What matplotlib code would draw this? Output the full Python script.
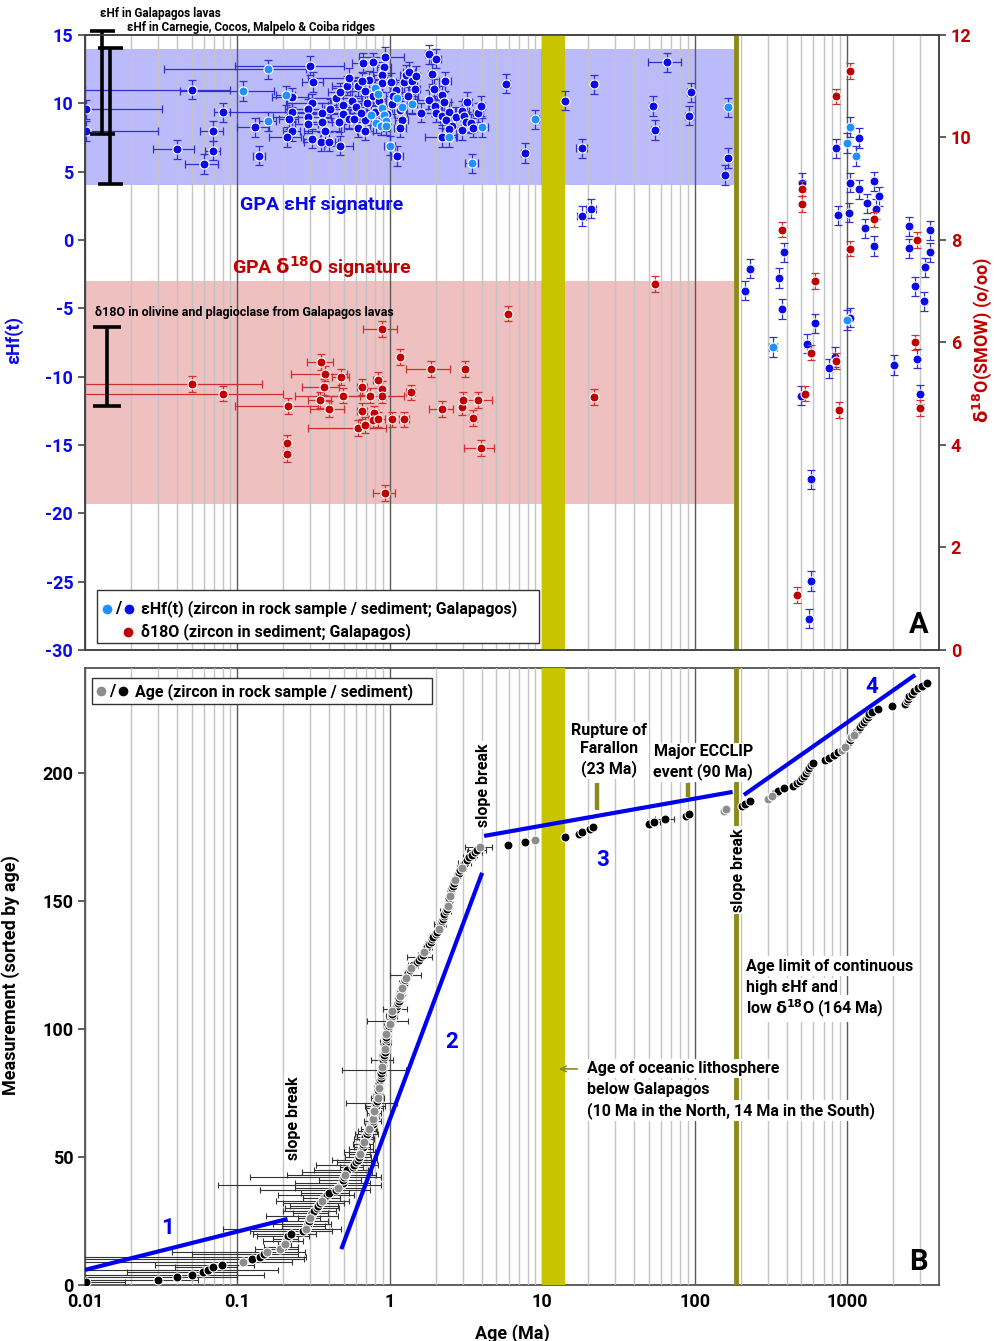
import numpy as np
import matplotlib
matplotlib.use('Agg')
import matplotlib.pyplot as plt
from matplotlib.patches import Rectangle
from matplotlib.ticker import LogLocator, FixedLocator, NullFormatter

plt.rcParams['font.family'] = ['Roboto', 'DejaVu Sans']
plt.rcParams['font.weight'] = 'bold'
plt.rcParams['axes.unicode_minus'] = False
plt.rcParams['mathtext.fontset'] = 'dejavusans'

# ---------------- DATA ----------------
X_TICKS = [0.01, 0.1, 1, 10, 100, 1000]
X_TICK_LABELS = ['0.01', '0.1', '1', '10', '100', '1000']
HF_TICKS = [-30, -25, -20, -15, -10, -5, 0, 5, 10, 15]
O_TICKS = [0, 2, 4, 6, 8, 10, 12]
N_TICKS = [0, 50, 100, 150, 200]

# eHf(t) of zircons (Ma, epsilon units)
HF_AGE = [0.0102, 0.0102, 0.050, 0.040, 0.060, 0.069, 0.069, 0.080, 0.130, 0.139,
          0.158, 0.158, 0.108, 0.209, 0.229, 0.229, 0.218, 0.229, 0.210,
          0.297, 0.314, 0.310, 0.290, 0.290, 0.290, 0.310, 0.355, 0.360, 0.360, 0.375, 0.405, 0.400,
          0.470, 0.440, 0.470, 0.490, 0.490, 0.465, 0.520, 0.540, 0.540, 0.580, 0.620, 0.620, 0.665,
          0.780, 0.930, 0.920, 0.690, 0.710, 0.690, 0.690, 0.730, 0.770,
          0.750, 0.800, 0.830, 0.810, 0.890, 0.920, 0.940, 0.870, 0.940,
          0.800, 0.890, 0.890, 1.02, 1.04, 1.10, 1.11, 1.17, 1.20, 1.17, 1.20, 1.24, 1.27, 1.34, 1.40,
          1.32, 1.48, 1.46, 1.40, 1.60, 1.00, 1.11,
          1.80, 2.00, 1.89, 2.30, 1.95, 1.80, 1.98, 2.20, 2.25, 2.00, 2.20, 2.45, 2.33, 2.55, 2.70,
          2.45, 2.98, 3.05, 2.98, 3.20, 3.15, 3.40, 3.50, 3.80, 3.95, 4.00, 2.20, 2.45, 3.45, 5.80,
          7.70, 9.00,
          0.56, 0.60, 0.65, 0.85, 1.05, 0.96, 0.66,
          14.1, 21.8, 18.2, 18.2, 20.9, 65.3, 53.0, 55.0, 93.8, 92.0, 164, 165, 157, 215, 230, 359,
          385, 375, 617, 847, 875, 1000, 1050, 1200, 1150, 1050, 1200, 1020, 1350, 1500, 1540, 1620,
          1300, 1500, 2550, 2550, 2800, 3500, 3500, 3230, 3200, 1000, 507, 328, 547, 500, 580, 580,
          560, 763, 830, 1050, 2030, 2880, 3000]
HF_VAL = [9.55, 7.98, 11.0, 6.64, 5.56, 6.54, 7.98, 9.35, 8.25, 6.17,
          12.5, 8.7, 10.9, 10.6, 10.45, 9.35, 8.85, 7.98, 7.54,
          12.75, 11.56, 10.0, 9.6, 9.0, 8.5, 7.4, 7.2, 9.3, 8.6, 8.0, 9.6, 7.2, 6.9, 10.4, 10.8, 9.9,
          9.2, 8.6, 11.3, 11.85, 8.85, 8.85, 11.25, 8.2, 12.95, 13.0, 13.4, 12.65, 10.9, 10.0, 8.8,
          8.0, 11.7, 10.5,
          9.15, 11.1, 10.7, 8.55, 9.65, 9.15, 8.7, 8.35, 8.35,
          9.4, 12.1, 11.5, 11.55, 9.95, 11.0, 10.4, 9.5, 8.8, 8.2, 9.7, 11.55, 12.1, 12.3, 11.65,
          10.5, 12.0, 11.05, 9.95, 9.3, 6.9, 6.15,
          13.6, 13.25, 12.15, 11.6, 11.05, 10.25, 9.8, 10.6, 10.1, 9.3, 9.1, 9.4, 8.8, 8.35, 9.0,
          8.1, 9.45, 9.1, 8.05, 10.1, 8.6, 8.55, 8.2, 9.3, 9.8, 8.25, 7.5, 7.5, 5.6, 11.45, 6.37, 8.83,
          10.2, 9.7, 9.3, 10.2, 10.5, 9.2, 11.6,
          10.2, 11.4, 6.7, 1.76, 2.3, 13.0, 9.8, 8.05, 10.8, 9.1, 9.7, 6.0, 4.76, -3.7, -2.1, -2.78,
          -0.9, -5.05, -6.1, 6.7, 1.8, 7.1, 8.27, 7.46, 6.15, 4.2, 3.7, 2.0, 2.7, 4.3, 2.27, 3.2, 0.87,
          -0.44, 1.0, -0.6, -3.4, 0.7, -0.9, -2.0, -4.5, -5.85, 4.2, -7.83, -7.6, -11.4, -17.5, -24.95,
          -27.7, -9.4, -8.56, -5.7, -9.15, -8.7, -11.3]
HF_XERR = [0.022, 0.02, 0.04, 0.012, 0.015, 0.008, 0.012, 0.01, 0.03, 0.012,
           0.125, 0.02, 0.066, 0.03, 0.06, 0.15, 0.03, 0.03, 0.05,
           0.2, 0.05, 0.1, 0.08, 0.12, 0.05, 0.04, 0.08, 0.15, 0.06, 0.1, 0.2, 0.06, 0.1, 0.15, 0.08,
           0.1, 0.2, 0.12, 0.1, 0.25, 0.08, 0.1, 0.06, 0.12, 0.1, 0.15, 0.3, 0.1, 0.2, 0.15, 0.1, 0.08,
           0.2, 0.12,
           0.05, 0.05, 0.05, 0.04, 0.05, 0.04, 0.05, 0.04, 0.06,
           0.1, 0.12, 0.1, 0.15, 0.1, 0.1, 0.08, 0.1, 0.12, 0.1, 0.08, 0.15, 0.1, 0.12, 0.1, 0.2, 0.1,
           0.12, 0.1, 0.3, 0.08, 0.1,
           0.1, 0.15, 0.1, 0.2, 0.15, 0.3, 0.2, 0.15, 0.25, 0.3, 0.2, 0.25, 0.2, 0.15, 0.2, 0.25, 0.3,
           0.2, 0.15, 0.25, 0.2, 0.15, 0.2, 0.3, 0.25, 0.4, 0.5, 0.3, 0.35, 0.3, 0.4, 0.5,
           0.1, 0.1, 0.1, 0.1, 0.1, 0.1, 0.1,
           0.5, 0.8, 1.5, 1.2, 1.5, 16, 3, 3, 5, 6, 6, 5, 6, 8, 10, 12, 15, 12, 20, 30,
           30, 40, 40, 40, 45, 40, 45, 40, 50, 60, 60, 65, 50, 60, 100, 100, 110, 130, 130, 120,
           120, 40, 20, 20, 25, 20, 25, 25, 20, 30, 30, 40, 70, 100, 110]
HF_ROCK_IDX = [10, 11, 12, 13, 54, 55, 56, 57, 58, 59, 60, 61, 62, 69, 73, 81, 83, 110, 112, 113,
               116, 134, 145, 146, 148, 165, 167]
HF_YERR = 0.7

# d18O of zircons in sediment (Ma, permil)
O_AGE = [0.05, 0.08, 0.216, 0.21, 0.21, 0.355, 0.376, 0.367, 0.35, 0.40, 0.48, 0.49, 0.66, 0.66,
         0.62, 0.69, 0.74, 0.79, 0.77, 0.83, 0.83, 0.89, 0.89, 0.89, 0.93, 1.03, 1.17, 1.24, 1.37,
         1.87, 2.2, 2.98, 3.0, 3.1, 3.8, 3.5, 3.95, 5.95, 21.8,
         55, 1050, 847, 507, 507, 375, 617, 1050, 1500, 2880, 580, 530, 847, 880, 470, 2800, 3000]
O_VAL = [5.19, 5.0, 4.76, 4.04, 3.82, 5.62, 5.39, 5.13, 4.88, 4.70, 5.33, 4.96, 5.13, 4.66, 4.33,
         4.39, 4.96, 4.62, 4.49, 4.5, 5.27, 5.09, 4.96, 6.26, 3.06, 4.5, 5.72, 4.5, 5.03, 5.48, 4.70,
         4.74, 4.88, 5.48, 4.88, 4.53, 3.94, 6.56, 4.94,
         7.14, 11.3, 10.8, 9.0, 8.7, 8.2, 7.2, 7.83, 8.4, 8.0, 5.8, 5.0, 5.64, 4.68, 1.07, 6.0, 4.72]
O_XERR = [0.095, 0.118, 0.12, 0.01, 0.01, 0.07, 0.15, 0.1, 0.06, 0.1, 0.06, 0.15, 0.05, 0.05, 0.33,
          0.05, 0.5, 0.04, 0.05, 0.1, 0.06, 0.03, 0.05, 0.22, 0.15, 0.05, 0.05, 0.1, 0.1, 0.6, 0.4,
          0.05, 0.1, 0.15, 0.9, 0.2, 0.9, 0.1, 0.5,
          2, 20, 15, 10, 10, 8, 12, 20, 25, 40, 12, 10, 15, 15, 10, 40, 40]
O_YERR = 0.15

# Reference ranges (lavas / ridges)
RANGE_HF_LAVAS = (0.0129, 7.75, 15.3)
RANGE_HF_RIDGES = (0.0146, 4.1, 14.05)
RANGE_O_LAVAS = (0.0139, 4.76, 6.3)
BAND_HF = (4.0, 14.0)
BAND_O = (-19.3, -3.0)
BAND_END_AGE = 180
LITHO_AGE = (10, 14)
LIMIT_AGE = 185

# Sorted zircon ages (Ma), measurement index 1..235
AGE_SORTED = [0.0102, 0.03, 0.04, 0.05, 0.059, 0.064, 0.069, 0.079, 0.108, 0.125, 0.14, 0.15,
              0.157, 0.19, 0.2, 0.205, 0.208, 0.21, 0.215, 0.226,
              0.27, 0.28, 0.285, 0.29, 0.295, 0.3, 0.305, 0.31, 0.32, 0.335,
              0.34, 0.35, 0.36, 0.37, 0.385, 0.40, 0.44, 0.46, 0.475, 0.49,
              0.495, 0.5, 0.51, 0.515, 0.52, 0.57, 0.58, 0.6, 0.62, 0.63,
              0.64, 0.65, 0.66, 0.665, 0.67, 0.68, 0.685, 0.69, 0.71, 0.72,
              0.73, 0.75, 0.77, 0.775, 0.78, 0.785, 0.79, 0.79, 0.80, 0.81,
              0.815, 0.82, 0.83, 0.835, 0.84, 0.84, 0.845, 0.85, 0.85, 0.86,
              0.87, 0.88, 0.88, 0.885, 0.89, 0.895, 0.90, 0.905, 0.91, 0.92,
              0.925, 0.93, 0.93, 0.935, 0.94, 0.94, 0.945, 0.95, 0.96, 0.97,
              0.98, 1.0, 1.01, 1.02, 1.03, 1.03, 1.04, 1.1, 1.12, 1.13,
              1.14, 1.15, 1.16, 1.17, 1.18, 1.2, 1.22, 1.23, 1.25, 1.27,
              1.3, 1.32, 1.35, 1.37, 1.42, 1.5, 1.55, 1.6, 1.64, 1.68,
              1.72, 1.76, 1.8, 1.85, 1.89, 1.93, 2.0, 2.05, 2.09, 2.12,
              2.15, 2.2, 2.22, 2.25, 2.28, 2.32, 2.36, 2.4, 2.42, 2.44,
              2.46, 2.48, 2.5, 2.53, 2.56, 2.6, 2.63, 2.68, 2.73, 2.78,
              2.85, 2.9, 2.96, 3.03, 3.1, 3.2, 3.3, 3.45, 3.6, 3.75,
              3.9, 5.96, 7.7, 8.9, 14.1, 17.5, 18.3, 20.5, 21.4, 50,
              53.7, 64, 88, 91.5, 155, 160, 205, 212, 230, 300,
              320, 335, 350, 385, 440, 470, 490, 505, 520, 535,
              550, 565, 580, 600, 720, 760, 820, 875, 930, 970,
              1000, 1020, 1040, 1060, 1100, 1150, 1190, 1220, 1250, 1280,
              1320, 1360, 1400, 1450, 1600, 1960, 2400, 2450, 2500, 2550,
              2650, 2750, 2900, 3100, 3360]
AGE_ERR = [0.008, 0.025, 0.06, 0.1, 0.04, 0.12, 0.03, 0.05, 0.12, 0.15,
           0.14, 0.1, 0.12, 0.06, 0.05, 0.02, 0.06, 0.04, 0.08, 0.1,
           0.15, 0.2, 0.09, 0.12, 0.1, 0.05, 0.15, 0.08, 0.12, 0.13,
           0.12, 0.15, 0.18, 0.1, 0.2, 0.14, 0.3, 0.22, 0.4, 0.25,
           0.15, 0.38, 0.3, 0.25, 0.2, 0.1, 0.25, 0.15, 0.2, 0.12,
           0.1, 0.15, 0.12, 0.08, 0.1, 0.05, 0.1, 0.08, 0.12, 0.1,
           0.08, 0.06, 0.05, 0.1, 0.04, 0.06, 0.08, 0.05, 0.1, 0.12,
           0.3, 0.05, 0.08, 0.06, 0.05, 0.04, 0.06, 0.05, 0.04, 0.05,
           0.04, 0.05, 0.06, 0.4, 0.05, 0.04, 0.05, 0.15, 0.06, 0.04,
           0.05, 0.06, 0.04, 0.05, 0.08, 0.05, 0.04, 0.06, 0.05, 0.04,
           0.06, 0.05, 0.3, 0.05, 0.08, 0.06, 0.05, 0.2, 0.06, 0.05,
           0.06, 0.07, 0.06, 0.08, 0.07, 0.06, 0.05, 0.08, 0.06, 0.07,
           0.3, 0.08, 0.07, 0.08, 0.1, 0.06, 0.08, 0.3, 0.1, 0.08,
           0.1, 0.12, 0.1, 0.08, 0.1, 0.12, 0.1, 0.08, 0.1, 0.12,
           0.2, 0.1, 0.12, 0.1, 0.12, 0.2, 0.1, 0.15, 0.12, 0.1,
           0.15, 0.12, 0.1, 0.15, 0.12, 0.1, 0.12, 0.15, 0.12, 0.1,
           0.15, 0.12, 0.2, 0.15, 0.3, 0.2, 0.3, 0.25, 0.4, 0.5,
           0.8, 0.3, 0.3, 0.4, 0.5, 0.5, 0.5, 0.6, 0.6, 1.5,
           5, 9, 2, 4, 3, 3, 2, 3, 4, 3,
           5, 5, 5, 6, 6, 6, 7, 7, 7, 8,
           8, 8, 9, 9, 10, 10, 12, 12, 14, 14,
           15, 15, 15, 16, 16, 17, 18, 18, 19, 19,
           20, 20, 21, 22, 24, 30, 35, 35, 36, 37,
           38, 40, 42, 45, 48]
AGE_ROCK_N = [9, 13, 14, 16, 22, 26, 33, 38, 43, 51, 56, 61, 65, 68, 73, 77, 85, 92, 98, 102,
              107, 113, 116, 120, 124, 130, 139, 148, 152, 158, 163, 171, 174, 185, 186, 190, 191,
              209, 210, 214, 215]

# Trend segments (age, measurement) pairs
SEG_AGE = [(0.01, 0.213), (0.48, 4.03), (4.15, 177), (210, 2790)]
SEG_N = [(5.9, 25.8), (14, 161), (175.4, 192.6), (191.4, 238.3)]
SEG_LABELS = ['1', '2', '3', '4']
SEG_LABEL_POS = [(0.035, 22.3), (2.56, 95), (25, 166), (1440, 233.6)]
EVENT_AGE = [23, 90]
EVENT_N = [(185.5, 196), (190.6, 196)]

# ---------------- STYLE ----------------
BLUE = '#0a0ae6'
LIGHT = '#1e90ff'
RED = '#c00000'
GRAY = '#8c8c8c'
BAND_BLUE = '#bbbbfb'
BAND_RED = '#efc0c0'
YELLOW = '#c8c400'
OLIVE = '#8c8a18'
FS = 11.5

fig = plt.figure(figsize=(9.94, 13.41), dpi=100)
axA = fig.add_axes([85/994, 1-650/1341, 854/994, 615/1341])
axB = fig.add_axes([85/994, 1-1285/1341, 854/994, 617/1341])


def setup_x(ax):
    ax.set_xscale('log')
    ax.set_xlim(0.01, 4000)
    ax.xaxis.set_major_locator(FixedLocator(X_TICKS))
    ax.xaxis.set_minor_locator(LogLocator(base=10, subs=np.arange(2, 10), numticks=60))
    ax.xaxis.set_minor_formatter(NullFormatter())
    ax.grid(True, which='major', axis='x', color='#5a5a5a', lw=1.0)
    ax.grid(True, which='minor', axis='x', color='#c4c4c4', lw=1.0)
    ax.set_axisbelow(False)
    ax.tick_params(axis='x', which='both', length=0)
    for s in ax.spines.values():
        s.set_color('#444444')
        s.set_linewidth(1.2)
    ax.axvspan(LITHO_AGE[0], LITHO_AGE[1], color=YELLOW, lw=0, zorder=3)
    ax.axvline(LIMIT_AGE, color=OLIVE, lw=3.5, zorder=3)


# ---------------- PANEL A ----------------
setup_x(axA)
axA.set_ylim(-30, 15)
axA.set_yticks(HF_TICKS)
axA.tick_params(axis='x', labelbottom=False)
axA.tick_params(axis='y', labelsize=13, labelcolor=BLUE, color='#444444', length=5, width=1.2)
for t in axA.get_yticklabels():
    t.set_fontweight('bold')
axA.set_ylabel('\u03b5Hf(t)', color=BLUE, fontsize=13, fontweight='bold')
axA.yaxis.set_label_coords(-0.073, 0.504)

axA.fill_between([0.01, BAND_END_AGE], BAND_HF[0], BAND_HF[1], color=BAND_BLUE, lw=0, zorder=1)
axA.fill_between([0.01, BAND_END_AGE], BAND_O[0], BAND_O[1], color=BAND_RED, lw=0, zorder=1)

hf_age = np.array(HF_AGE)
hf_val = np.array(HF_VAL)
hf_xerr = np.array(HF_XERR)
rock = np.zeros(len(hf_age), bool)
rock[HF_ROCK_IDX] = True
axA.errorbar(hf_age, hf_val, xerr=hf_xerr, yerr=HF_YERR, fmt='none', ecolor='#3030d0',
             elinewidth=0.9, capsize=3, capthick=0.9, zorder=4)
axA.plot(hf_age[~rock], hf_val[~rock], 'o', color=BLUE, ms=6.5, mec='white', mew=0.8, zorder=5)
axA.plot(hf_age[rock], hf_val[rock], 'o', color=LIGHT, ms=6.5, mec='white', mew=0.8, zorder=5)

# range bars
for (x, lo, hi) in (RANGE_HF_LAVAS, RANGE_HF_RIDGES):
    eb = axA.errorbar([x], [(lo + hi) / 2], yerr=[(hi - lo) / 2], fmt='none', ecolor='black',
                      elinewidth=2.6, capsize=9, capthick=2.6, zorder=6)
    for a in eb.lines[1] + eb.lines[2]:
        a.set_clip_on(False)

axA.text(0.359, 2.56, 'GPA \u03b5Hf signature', color=BLUE, fontsize=14, fontweight='bold',
         ha='center', va='center', zorder=6)
axA.text(0.359, -1.98, r'GPA $\mathbf{\delta^{18}}$O signature', color=RED, fontsize=14,
         fontweight='bold', ha='center', va='center', zorder=6)
axA.text(0.01163, -5.27, '\u03b418O in olivine and plagioclase from Galapagos lavas', fontsize=9,
         fontweight='bold', ha='left', va='center', zorder=6)
axA.text(2924, -28.17, 'A', fontsize=21, fontweight='bold', ha='center', va='center', zorder=6)

# legend A
axA.add_patch(Rectangle((0.014, 0.011), 0.518, 0.087, transform=axA.transAxes, fc='white',
                        ec='#333333', lw=1.0, zorder=7))
axA.plot([0.0258], [0.0667], 'o', color=LIGHT, ms=8, mec='white', transform=axA.transAxes, zorder=8)
axA.plot([0.0515], [0.0667], 'o', color=BLUE, ms=8, mec='white', transform=axA.transAxes, zorder=8)
axA.plot([0.0503], [0.0293], 'o', color=RED, ms=8, mec='white', transform=axA.transAxes, zorder=8)
axA.text(0.0386, 0.0667, '/', transform=axA.transAxes, fontsize=12, fontweight='bold',
         ha='center', va='center', zorder=8)
axA.text(0.0656, 0.0667, '\u03b5Hf(t) (zircon in rock sample / sediment; Galapagos)',
         transform=axA.transAxes, fontsize=FS, fontweight='bold', ha='left', va='center', zorder=8)
axA.text(0.0656, 0.0293, '\u03b418O (zircon in sediment; Galapagos)', transform=axA.transAxes,
         fontsize=FS, fontweight='bold', ha='left', va='center', zorder=8)

# twin axis for d18O
axO = axA.twinx()
axO.set_xscale('log')
axO.set_xlim(0.01, 4000)
axO.set_ylim(0, 12)
axO.set_yticks(O_TICKS)
axO.tick_params(axis='y', labelsize=13, labelcolor=RED, color='#444444', length=5, width=1.2)
for t in axO.get_yticklabels():
    t.set_fontweight('bold')
for s in axO.spines.values():
    s.set_color('#444444')
    s.set_linewidth(1.2)
axO.set_ylabel(r'$\mathbf{\delta^{18}}$O(SMOW) (o/oo)', color=RED, fontsize=13,
               fontweight='bold', rotation=90)
axO.yaxis.set_label_coords(1.037, 0.504)
axO.errorbar(O_AGE, O_VAL, xerr=O_XERR, yerr=O_YERR, fmt='none', ecolor='#d03030',
             elinewidth=0.9, capsize=3, capthick=0.9, zorder=4)
axO.plot(O_AGE, O_VAL, 'o', color=RED, ms=6.5, mec='white', mew=0.8, zorder=5)
x, lo, hi = RANGE_O_LAVAS
eb = axO.errorbar([x], [(lo + hi) / 2], yerr=[(hi - lo) / 2], fmt='none', ecolor='black',
                  elinewidth=2.6, capsize=10, capthick=2.6, zorder=6)

fig.text(100/994, 1-13/1341, '\u03b5Hf in Galapagos lavas', fontsize=8.5, fontweight='bold',
         ha='left', va='center')
fig.text(127/994, 1-27/1341, '\u03b5Hf in Carnegie, Cocos, Malpelo & Coiba ridges', fontsize=8.5,
         fontweight='bold', ha='left', va='center')

# ---------------- PANEL B ----------------
setup_x(axB)
axB.set_ylim(0, 241)
axB.set_yticks(N_TICKS)
axB.set_xticklabels(X_TICK_LABELS)
axB.tick_params(axis='x', labelsize=13, pad=6)
axB.tick_params(axis='y', labelsize=13, color='#444444', length=5, width=1.2)
for t in axB.get_yticklabels() + axB.get_xticklabels():
    t.set_fontweight('bold')
axB.set_ylabel('Measurement (sorted by age)', fontsize=13, fontweight='bold')
axB.yaxis.set_label_coords(-0.076, 0.502)
axB.set_xlabel('Age (Ma)', fontsize=13, fontweight='bold')
axB.xaxis.set_label_coords(0.5, -0.064)

ages = np.array(AGE_SORTED)
nidx = np.arange(1, len(ages) + 1)
grey = np.isin(nidx, AGE_ROCK_N)
axB.errorbar(ages, nidx, xerr=AGE_ERR, fmt='none', ecolor='#333333', elinewidth=0.8,
             capsize=2.5, capthick=0.8, zorder=4)
axB.plot(ages[~grey], nidx[~grey], 'o', color='black', ms=6.5, mec='white', mew=0.8, zorder=5)
axB.plot(ages[grey], nidx[grey], 'o', color=GRAY, ms=6.5, mec='white', mew=0.8, zorder=5)

for (xa, na), lab, (lx, ly) in zip(zip(SEG_AGE, SEG_N), SEG_LABELS, SEG_LABEL_POS):
    axB.plot(xa, na, '-', color='#0000ee', lw=3, zorder=6, solid_capstyle='butt')
    axB.text(lx, ly, lab, color='#0000ee', fontsize=16, fontweight='bold', ha='center',
             va='center', zorder=6)

for ea, (n0, n1) in zip(EVENT_AGE, EVENT_N):
    axB.plot([ea, ea], [n0, n1], '-', color=OLIVE, lw=3.2, zorder=6, solid_capstyle='butt')

wb = dict(facecolor='white', edgecolor='none', pad=1.5)
for (x, y) in [(0.232, 65.2), (4.09, 195.3), (193, 162)]:
    axB.text(x, y, 'slope break', rotation=90, fontsize=FS, fontweight='bold', ha='center',
             va='center', zorder=7, bbox=wb)
axB.text(27.4, 209, 'Rupture of\nFarallon\n(23 Ma)', fontsize=FS, fontweight='bold',
         ha='center', va='center', linespacing=1.25, zorder=7, bbox=wb)
axB.text(113.5, 204.3, 'Major ECCLIP\nevent (90 Ma)', fontsize=FS, fontweight='bold',
         ha='center', va='center', linespacing=1.25, zorder=7, bbox=wb)
for i, line in enumerate(['Age limit of continuous', 'high \u03b5Hf and',
                          r'low $\mathbf{\delta^{18}}$O (164 Ma)']):
    axB.text(217, 124.6 - 8.3 * i, line, fontsize=FS, fontweight='bold', ha='left',
             va='center', zorder=7, bbox=wb)
for i, line in enumerate(['Age of oceanic lithosphere', 'below Galapagos',
                          '(10 Ma in the North, 14 Ma in the South)']):
    axB.text(19.7, 84.4 - 8.2 * i, line, fontsize=FS, fontweight='bold', ha='left',
             va='center', zorder=7, bbox=wb)
axB.annotate('', xy=(12.3, 84.4), xytext=(17.7, 84.4),
             arrowprops=dict(arrowstyle='->', color=OLIVE, lw=1.2), zorder=7)
axB.text(2924, 9, 'B', fontsize=21, fontweight='bold', ha='center', va='center', zorder=7)

# legend B
axB.add_patch(Rectangle((0.0082, 0.9417), 0.398, 0.042, transform=axB.transAxes, fc='white',
                        ec='#333333', lw=1.0, zorder=7))
axB.plot([0.0187], [0.962], 'o', color=GRAY, ms=8, mec='white', transform=axB.transAxes, zorder=8)
axB.plot([0.0445], [0.962], 'o', color='black', ms=8, mec='white', transform=axB.transAxes, zorder=8)
axB.text(0.0316, 0.962, '/', transform=axB.transAxes, fontsize=12, fontweight='bold',
         ha='center', va='center', zorder=8)
axB.text(0.0585, 0.962, 'Age (zircon in rock sample / sediment)', transform=axB.transAxes,
         fontsize=FS, fontweight='bold', ha='left', va='center', zorder=8)

fig.savefig('out.png', dpi=100)
